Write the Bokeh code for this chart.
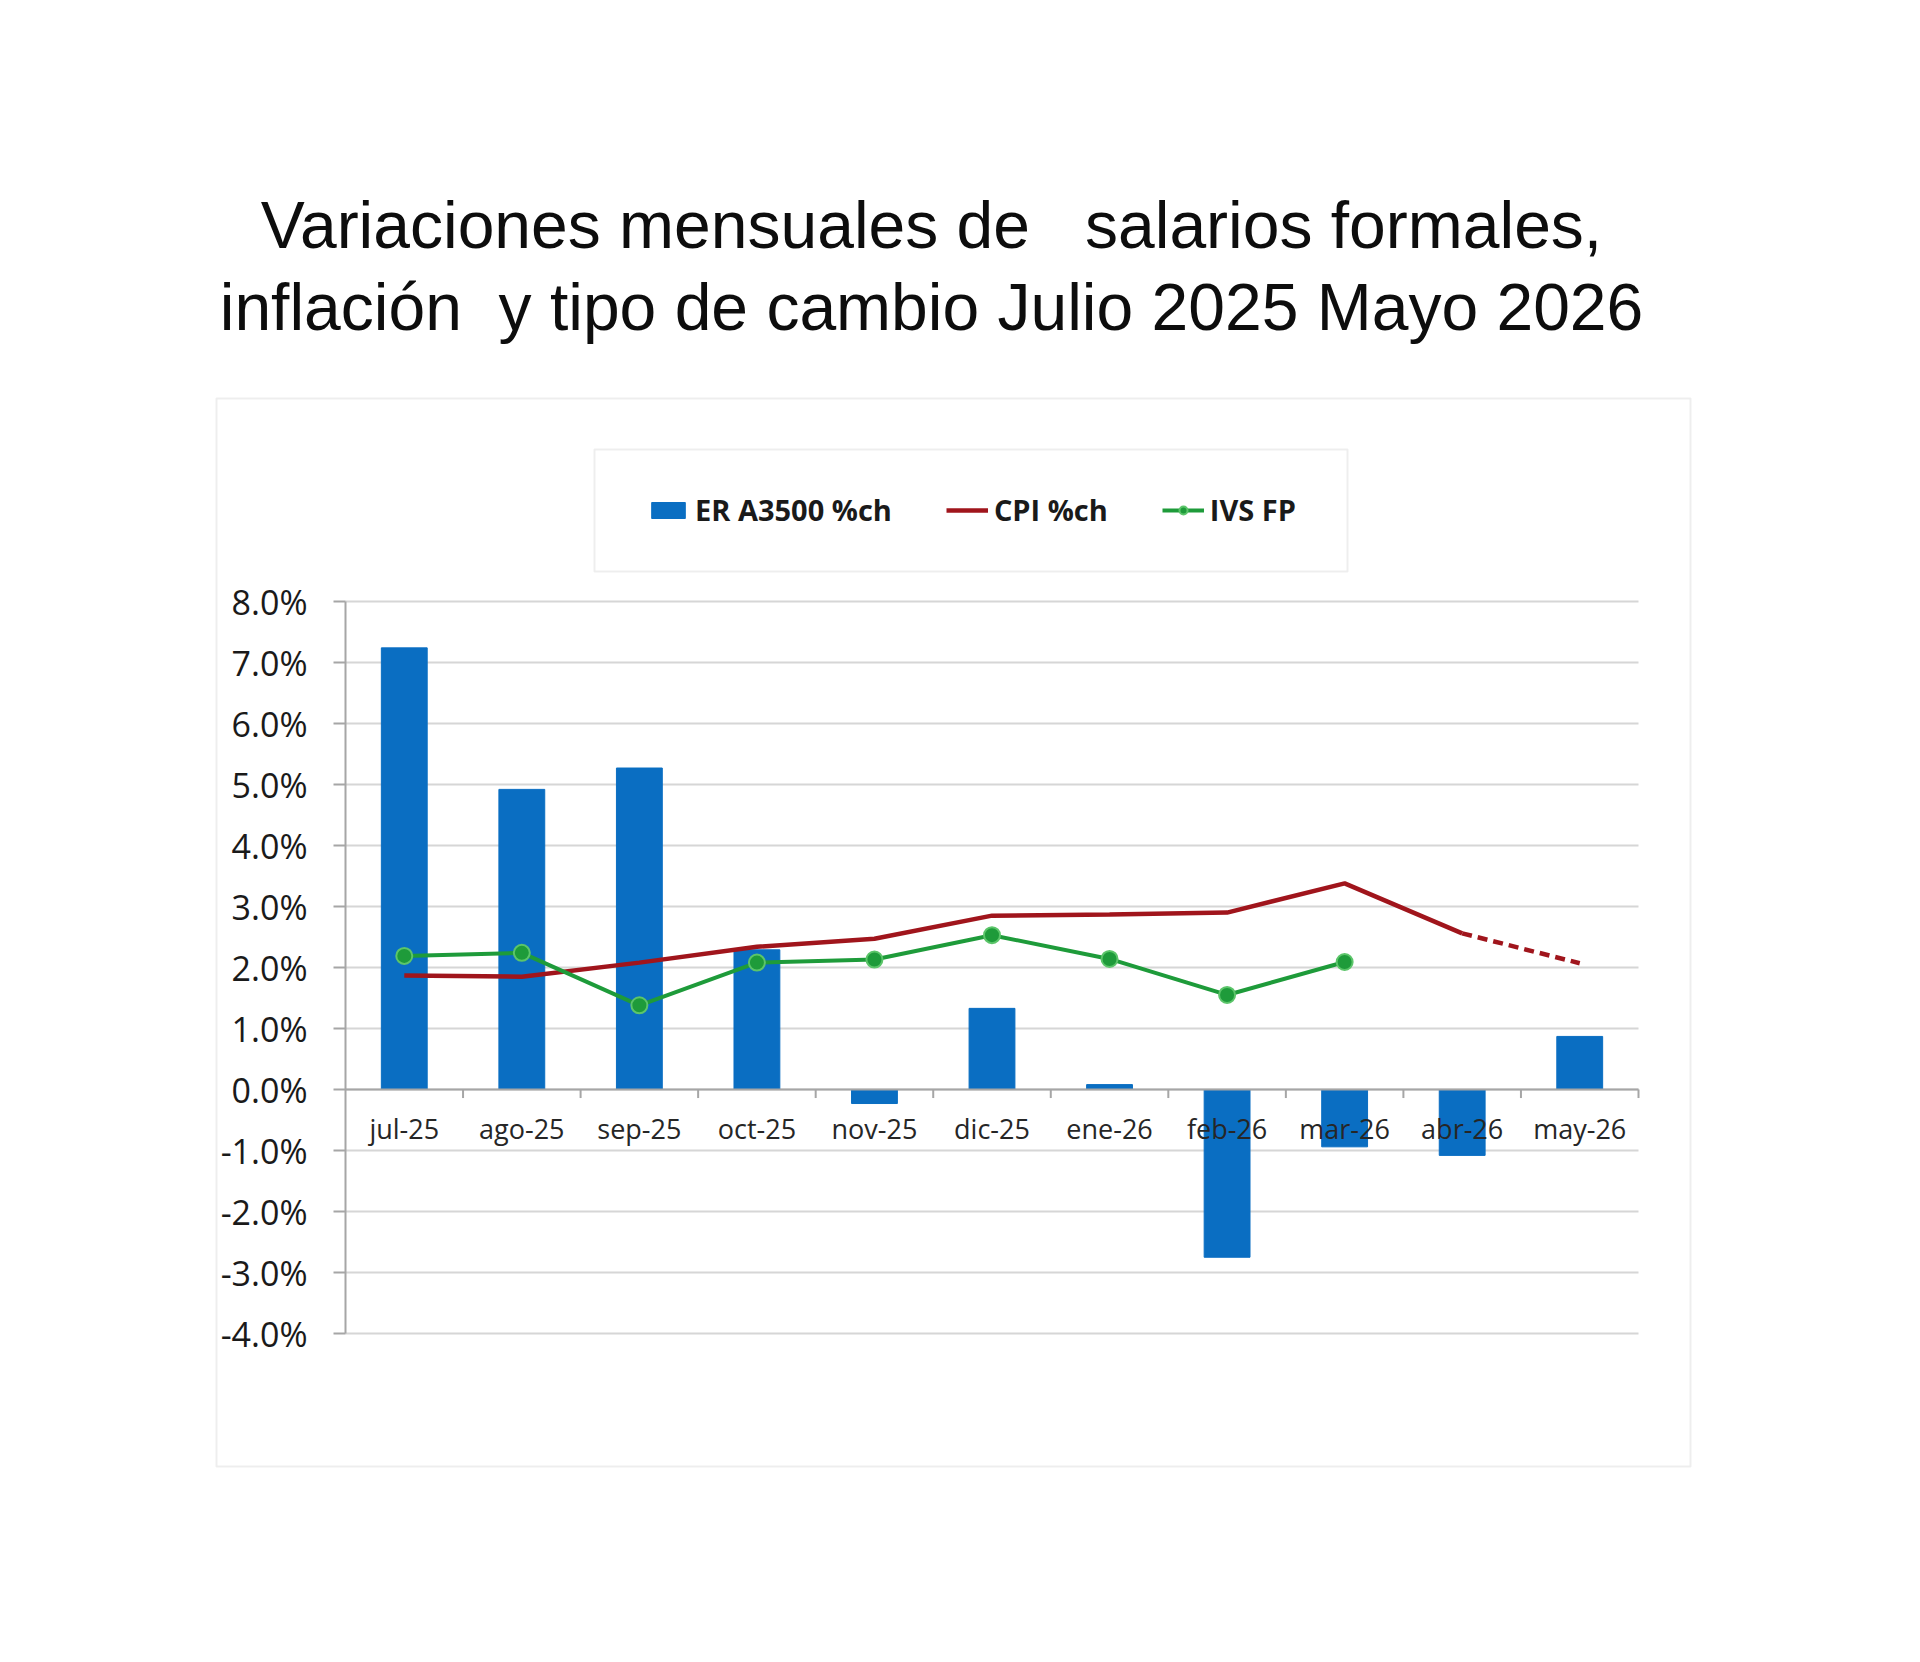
from bokeh.plotting import figure
from bokeh.models import (FactorRange, Range1d, FixedTicker, PrintfTickFormatter, Label,
                          BoxAnnotation, Legend, LegendItem, ColumnDataSource, Grid)
from bokeh.transform import dodge
from bokeh.embed import file_html
from bokeh.resources import INLINE

# ---------------- data ----------------
title_lines = ["Variaciones mensuales de \u00a0\u00a0salarios formales,",
               "inflación \u00a0y tipo de cambio Julio 2025 Mayo 2026"]
months = ["jul-25", "ago-25", "sep-25", "oct-25", "nov-25", "dic-25",
          "ene-26", "feb-26", "mar-26", "abr-26", "may-26"]
er_a3500 = [7.24, 4.92, 5.27, 2.29, -0.23, 1.33, 0.08, -2.75, -0.94, -1.08, 0.87]
cpi = [1.87, 1.85, 2.08, 2.34, 2.47, 2.85, 2.87, 2.90, 3.38, 2.56, 2.07]
cpi_actual_n = 10          # last point (may-26) is a projection (dashed)
ivs_fp = [2.19, 2.24, 1.38, 2.08, 2.13, 2.53, 2.14, 1.55, 2.09]
y_ticks = [-4, -3, -2, -1, 0, 1, 2, 3, 4, 5, 6, 7, 8]
legend_labels = ["ER A3500 %ch", "CPI %ch", "IVS FP"]

BLUE = "#0A6EC2"
RED = "#A0151C"
GREEN = "#1E9B3A"
GRAY = "#A6A6A6"

# layout geometry (pixels)
W, H = 1904, 1646
PLOT_L, PLOT_R, PLOT_T, PLOT_B = 345, 1638, 601, 1333
n = len(months)
cat_px = (PLOT_R - PLOT_L) / n
pad_px = W - PLOT_R
FRAME_L = PLOT_L - pad_px
px_per_unit = (PLOT_B - PLOT_T) / (y_ticks[-1] - y_ticks[0])
y_end = y_ticks[-1] + PLOT_T / px_per_unit
y_start = y_ticks[0] - (H - PLOT_B) / px_per_unit

p = figure(width=W, height=H,
           x_range=FactorRange(factors=months, range_padding=pad_px / cat_px,
                               range_padding_units="absolute"),
           y_range=Range1d(y_start, y_end),
           output_backend="svg", toolbar_location=None,
           min_border_left=FRAME_L, min_border_right=0,
           min_border_top=0, min_border_bottom=0,
           outline_line_color=None, background_fill_color="white",
           border_fill_color="white")

def sx(x):  # canvas x -> frame screen x
    return x - FRAME_L

def sy(y):  # canvas y -> frame screen y (from bottom)
    return H - y

# outer chart frame
p.add_layout(BoxAnnotation(left=sx(216), right=sx(1690), top=sy(398), bottom=sy(1466),
                           left_units="screen", right_units="screen",
                           top_units="screen", bottom_units="screen",
                           fill_alpha=0, line_color="#C8C8C8", line_width=2,
                           level="underlay"))

# grid
p.xgrid.grid_line_color = None
p.ygrid.ticker = FixedTicker(ticks=y_ticks)
if "cross_bounds" in Grid.properties():
    p.ygrid.cross_bounds = (0, n)
    p.ygrid.grid_line_color = "#D6D6D6"
    p.ygrid.grid_line_width = 2
else:
    p.ygrid.grid_line_color = None
    p.segment(x0=[0] * len(y_ticks), x1=[n] * len(y_ticks), y0=y_ticks, y1=y_ticks,
              line_color="#D6D6D6", line_width=2, level="underlay")

# y axis
p.yaxis.fixed_location = 0
p.yaxis.bounds = (y_ticks[0], y_ticks[-1])
p.yaxis.ticker = FixedTicker(ticks=y_ticks)
p.yaxis.formatter = PrintfTickFormatter(format="%.1f%%")
p.yaxis.major_tick_out = 12
p.yaxis.major_tick_in = 0
p.yaxis.minor_tick_line_color = None
p.yaxis.major_tick_line_color = GRAY
p.yaxis.major_tick_line_width = 2
p.yaxis.axis_line_color = GRAY
p.yaxis.axis_line_width = 2
p.yaxis.major_label_standoff = 26
p.yaxis.major_label_text_font = "Open Sans"
p.yaxis.major_label_text_font_size = "34px"
p.yaxis.major_label_text_color = "#1A1A1A"

# x axis at zero
p.xaxis.fixed_location = 0
p.xaxis.bounds = (0, n)
p.xaxis.major_tick_line_color = None
p.xaxis.major_tick_out = 0
p.xaxis.major_tick_in = 0
p.xaxis.axis_line_color = GRAY
p.xaxis.axis_line_width = 2
p.xaxis.major_label_standoff = 20
p.xaxis.major_label_text_font = "Open Sans"
p.xaxis.major_label_text_font_size = "27px"
p.xaxis.major_label_text_color = "#262626"

src = ColumnDataSource(dict(month=months, er=er_a3500))
bars = p.vbar(x="month", top="er", bottom=0, width=0.39, source=src,
              fill_color=BLUE, line_color=BLUE)

# category boundary ticks on the zero axis
p.segment(x0=dodge("month", 0.5, range=p.x_range), y0=0,
          x1=dodge("month", 0.5, range=p.x_range), y1=-0.14,
          source=src, line_color=GRAY, line_width=2)

cpi_line = p.line(months[:cpi_actual_n], cpi[:cpi_actual_n], line_color=RED, line_width=4.5)
p.line(months[cpi_actual_n - 1:], cpi[cpi_actual_n - 1:], line_color=RED, line_width=4.5,
       line_dash="10 6")

ivs_x = months[:len(ivs_fp)]
ivs_line = p.line(ivs_x, ivs_fp, line_color=GREEN, line_width=4)
ivs_pts = p.scatter(ivs_x, ivs_fp, size=16, fill_color=GREEN, line_color="#5CC56A",
                    line_width=2)

# legend box + legend
p.add_layout(BoxAnnotation(left=sx(594), right=sx(1347), top=sy(449), bottom=sy(571),
                           left_units="screen", right_units="screen",
                           top_units="screen", bottom_units="screen",
                           fill_color="white", fill_alpha=1,
                           line_color="#C8C8C8", line_width=2))
legend = Legend(items=[LegendItem(label=legend_labels[0], renderers=[bars]),
                       LegendItem(label=legend_labels[1], renderers=[cpi_line]),
                       LegendItem(label=legend_labels[2], renderers=[ivs_line, ivs_pts])],
                orientation="horizontal", location=(sx(647), sy(529)),
                glyph_width=42, glyph_height=20, label_standoff=6, spacing=54,
                padding=0, margin=0, border_line_alpha=0, background_fill_alpha=0,
                label_text_font="Open Sans", label_text_font_style="bold",
                label_text_font_size="29px", label_text_color="#1A1A1A")
p.add_layout(legend)

# title
for txt, yy in zip(title_lines, [224, 306]):
    p.add_layout(Label(x=sx(931), y=sy(yy), x_units="screen", y_units="screen", text=txt,
                       text_align="center", text_baseline="alphabetic",
                       text_font="Liberation Sans", text_font_size="66px",
                       text_color="#0D0D0D"))

open("out.html", "w").write(file_html(p, INLINE))
